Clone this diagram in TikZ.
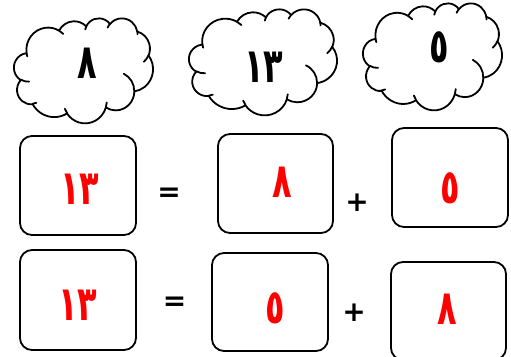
\documentclass[tikz,border=0pt]{standalone}
\usepackage{graphicx}
\usepackage{fontspec}
\newfontfamily\arabicfont[Script=Arabic]{DejaVu Sans}
\newfontfamily\symfont{DejaVu Sans}
% arc of an ellipse given by radii and geometric start angle / sweep
\newcommand\ooarc[4]{arc[x radius=#1, y radius=#2, start angle={atan2(#1*sin(#3),#2*cos(#3))}, delta angle={mod(atan2(#1*sin(#3+#4),#2*cos(#3+#4))-atan2(#1*sin(#3),#2*cos(#3))+720,360)}]}
\newcommand\wordcloud[4]{%
  \begin{scope}[shift={(#1,#2)}, xscale=#3/100, yscale=#4/100]
  \draw[cloudline, fill=white] (9.0278,33.2639)
    \ooarc{15.6319}{21.2731}{-190.4875}{123.7805}
    \ooarc{12.3449}{16.8218}{-144.1024}{89.9452}
    \ooarc{10.1042}{13.7616}{-145.8079}{99.7230}
    \ooarc{11.2431}{15.2662}{-130.9861}{117.2417}
    \ooarc{12.3449}{16.8356}{-78.7089}{109.0269}
    \ooarc{15.6829}{21.3426}{-46.2673}{130.2690}
    \ooarc{13.3912}{18.2106}{0.6250}{114.0333}
    \ooarc{15.6296}{21.3310}{22.4516}{115.1726}
    \ooarc{17.8704}{24.4051}{66.2426}{75.7110}
    \ooarc{10.0926}{13.6991}{-274.9421}{146.7356}
    \ooarc{10.0579}{13.7616}{-246.8285}{152.5189}
    -- cycle;
  \draw[cloudline]
    (10.8634,60.5949) \ooarc{10.0579}{13.7616}{86.7420}{26.4295}
    (16.0370,80.7847) \ooarc{10.0926}{13.6991}{73.6105}{11.4475}
    (38.1435,90.4861) \ooarc{15.6296}{21.3310}{137.6242}{14.0811}
    (66.7292,80.4421) \ooarc{15.6296}{21.3310}{6.4533}{15.9984}
    (79.0023,53.1343) \ooarc{13.3912}{18.2106}{-70.2924}{70.9174}
    (96.7546,35.5417) \ooarc{12.3449}{16.8356}{30.3180}{27.7515}
    (88.7130,12.5602) \ooarc{11.2431}{15.2662}{-13.7443}{14.8589}
    (67.3102,9.1481) \ooarc{11.2431}{15.2662}{-149.1815}{18.1954}
    (51.2523,10.9259) \ooarc{10.1042}{13.7616}{-163.4943}{17.6864}
    (32.4074,12.0185) \ooarc{15.6319}{21.2731}{-66.7070}{12.3194}
    (9.5532,36.5486) \ooarc{15.6319}{21.2731}{157.6544}{11.8582};
  \end{scope}}
\begin{document}
\begin{tikzpicture}[x=1pt,y=-1pt,
  cloudline/.style={draw=black, line width=1.8pt, line join=round, line cap=round},
  numbox/.style={draw=black, line width=1.8pt, rounded corners=12pt, inner sep=0pt},
  clouddigit/.style={anchor=base, inner sep=0pt, font=\arabicfont\bfseries\fontsize{32}{32}\selectfont, text=black},
  reddigit/.style={anchor=base, inner sep=0pt, font=\arabicfont\bfseries\fontsize{32}{32}\selectfont, text=red},
  opsign/.style={inner sep=0pt, font=\symfont\bfseries\fontsize{28}{28}\selectfont}]
\clip (0,0) rectangle (511,356);
\fill[white] (0,0) rectangle (511,356);
% clouds
\wordcloud{14}{18}{139}{105}
\wordcloud{189}{9}{148}{106}
\wordcloud{363}{3}{139}{107}
\node[clouddigit] (t1) at (87.5,78) {\scalebox{1.0}[1.5]{٨}};
\node[clouddigit] (t2) at (264,82) {\scalebox{1.0}[1.5]{١٣}};
\node[clouddigit] (t3) at (439,62) {\scalebox{1.0}[1.5]{٥}};
% row 1
\node[numbox, minimum width=116pt, minimum height=99pt] (a) at (78,185.5) {};
\node[numbox, minimum width=115pt, minimum height=99pt] (b) at (275.5,183.5) {};
\node[numbox, minimum width=116pt, minimum height=99pt] (c) at (450,177.5) {};
\node[reddigit] (ta) at (80,204) {\scalebox{1.0}[1.5]{١٣}};
\node[reddigit] (tb) at (282,197) {\scalebox{1.0}[1.5]{٨}};
\node[reddigit] (tc) at (450,203) {\scalebox{1.0}[1.5]{٥}};
\node[opsign] (eq1) at (169,195) {=};
\node[opsign] (pl1) at (357,203) {+};
% row 2
\node[numbox, minimum width=116pt, minimum height=100pt] (d) at (78,300) {};
\node[numbox, minimum width=116pt, minimum height=98pt] (e) at (270,302) {};
\node[numbox, minimum width=115pt, minimum height=98pt] (f) at (448.5,311) {};
\node[reddigit] (td) at (78,320) {\scalebox{1.0}[1.5]{١٣}};
\node[reddigit] (te) at (275,323) {\scalebox{1.0}[1.5]{٥}};
\node[reddigit] (tf) at (447,324) {\scalebox{1.0}[1.5]{٨}};
\node[opsign] (eq2) at (174.5,303.5) {=};
\node[opsign] (pl2) at (354,313) {+};
\end{tikzpicture}
\end{document}
